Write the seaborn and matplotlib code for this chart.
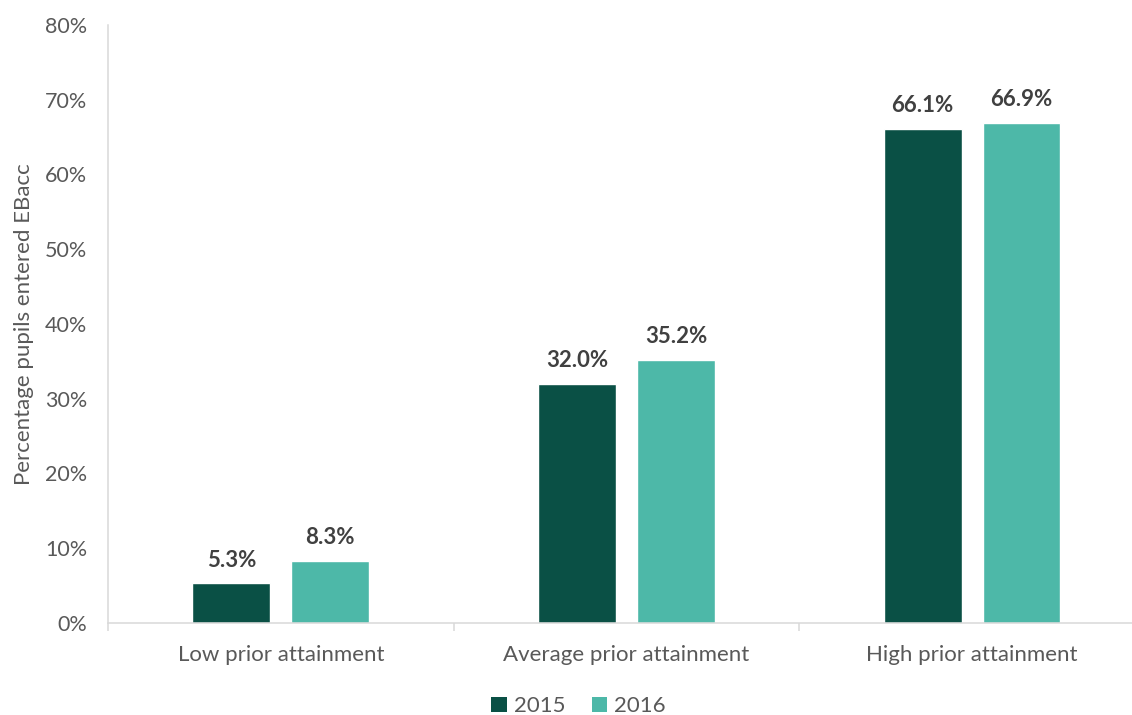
import matplotlib

matplotlib.use("Agg")
import matplotlib.pyplot as plt
import pandas as pd
import seaborn as sns
from matplotlib.patches import Patch
from matplotlib.ticker import FixedLocator, PercentFormatter

# Chart data
categories = ["Low prior attainment", "Average prior attainment", "High prior attainment"]
years = ["2015", "2016"]
values_2015 = [5.3, 32.0, 66.1]
values_2016 = [8.3, 35.2, 66.9]

colours = {"2015": "#0A5045", "2016": "#4DB8A8"}
GRID = "#D9D9D9"
TEXT = "#595959"

df = pd.DataFrame(
    {
        "category": categories * 2,
        "year": [years[0]] * 3 + [years[1]] * 3,
        "value": values_2015 + values_2016,
    }
)

sns.set_theme(style="white")
plt.rcParams["font.family"] = ["Lato", "DejaVu Sans"]

fig = plt.figure(figsize=(11.32, 7.15), dpi=100)
ax = fig.add_axes([0.0954, 0.1287, 0.916, 0.8364])

sns.barplot(
    data=df,
    x="category",
    y="value",
    hue="year",
    order=categories,
    hue_order=years,
    palette=colours,
    width=0.572,
    gap=0.213,
    saturation=1,
    ax=ax,
    legend=False,
)

for cont in ax.containers:
    ax.bar_label(
        cont,
        fmt="%.1f%%",
        padding=9,
        fontsize=16,
        fontweight="bold",
        color="#404040",
    )

ax.set_ylim(0, 80)
ax.set_xlim(-0.5, 2.5)
ax.set_yticks(range(0, 81, 10))
ax.yaxis.set_major_formatter(PercentFormatter(decimals=0))
ax.tick_params(axis="y", length=0, pad=15, labelsize=15.5, labelcolor=TEXT)
ax.tick_params(axis="x", which="major", length=0, pad=16, labelsize=16, labelcolor=TEXT)
ax.xaxis.set_minor_locator(FixedLocator([-0.5, 0.5, 1.5, 2.5]))
ax.tick_params(axis="x", which="minor", length=6, width=1.1, color=GRID, bottom=True)

ax.set_xlabel("")
ax.set_ylabel("Percentage pupils entered EBacc", fontsize=16, color=TEXT, labelpad=8)

for side in ["top", "right"]:
    ax.spines[side].set_visible(False)
for side in ["left", "bottom"]:
    ax.spines[side].set_color(GRID)
    ax.spines[side].set_linewidth(1.1)

handles = [Patch(facecolor=colours[y], edgecolor="none", label=y) for y in years]
fig.legend(
    handles=handles,
    loc="lower center",
    bbox_to_anchor=(0.511, -0.03),
    ncol=2,
    frameon=False,
    fontsize=16,
    handlelength=0.7,
    handleheight=0.7,
    handletextpad=0.3,
    columnspacing=1.2,
    labelcolor=TEXT,
)

fig.savefig("out.png", dpi=100)
